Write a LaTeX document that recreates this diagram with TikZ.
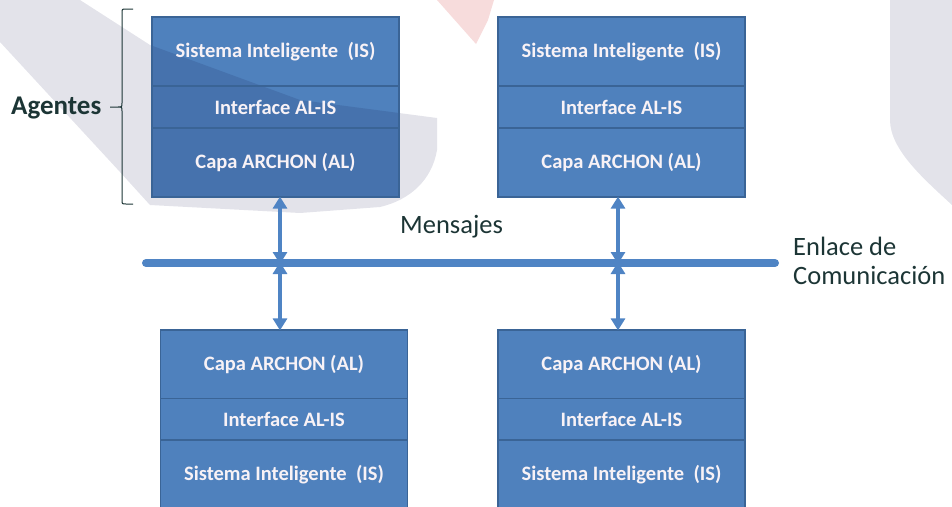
\documentclass[tikz,border=0pt]{standalone}
\usepackage{fontspec}
\setmainfont{Carlito}
\usetikzlibrary{arrows.meta}

\definecolor{layerblue}{HTML}{4F81BD}
\definecolor{layeredge}{HTML}{3A6496}
\definecolor{linkblue}{HTML}{4F84C4}
\definecolor{inkdark}{HTML}{1C3535}
\definecolor{layertext}{HTML}{F8F2F6}
\definecolor{washgray}{HTML}{E3E3EA}
\definecolor{washpink}{HTML}{F7DCDC}

% the grey sweep, as a path over named points
\newcommand{\sweeppath}{(sw1) -- (sw2) -- (sw3) -- (sw4) -- (sw5) -- (sw6)
  .. controls (sc1) and (sc2) .. (sw7) -- (sw8) -- (sw9) -- (sw10) -- (sw11) -- cycle}

\tikzset{
  layer/.style={draw=layeredge, line width=1.2pt, fill=layerblue,
    minimum width=247pt, inner sep=0pt, text=layertext,
    font=\bfseries\fontsize{20.5}{23}\selectfont},
  thick layer/.style={layer, minimum height=69pt},
  thin layer/.style={layer, minimum height=42pt},
  swept/.style={path picture={\fill[washgray, blend mode=multiply] \sweeppath;}},
  msgarrow/.style={draw=linkblue, line width=4pt,
    {Triangle[length=12pt,width=14pt]}-{Triangle[length=12pt,width=14pt]},
    shorten <=-1pt, shorten >=-1pt},
  bus/.style={draw=linkblue, line width=8pt, line cap=round},
  label text/.style={text=inkdark, inner sep=0pt, align=left,
    font=\fontsize{26.5}{29}\selectfont},
}

\begin{document}
\begin{tikzpicture}[x=1pt, y=-1pt]
\useasboundingbox (0,0) rectangle (952,506);

% faint background marks
\coordinate (sw1) at (0,0);     \coordinate (sw2) at (80,0);
\coordinate (sw3) at (150,45);  \coordinate (sw4) at (300,100);
\coordinate (sw5) at (437,118); \coordinate (sw6) at (437,150);
\coordinate (sc1) at (432,180); \coordinate (sc2) at (410,200);
\coordinate (sw7) at (380,207); \coordinate (sw8) at (300,213);
\coordinate (sw9) at (150,205); \coordinate (sw10) at (120,172);
\coordinate (sw11) at (0,42);
\fill[washgray] \sweeppath;
\fill[washpink] (437,0) -- (494,0) -- (488,20) -- (476,44) -- cycle;
\fill[washgray] (890,0) -- (952,0) -- (952,205)
  .. controls (925,180) and (890,150) .. (890,120) -- cycle;

% upper agents
\node[thick layer, swept] (tl-is) at (275.5,51.5)  {Sistema Inteligente \ (IS)};
\node[thin layer, swept]  (tl-if) at (275.5,107)   {Interface AL-IS};
\node[thick layer, swept] (tl-al) at (275.5,162.5) {Capa ARCHON (AL)};

\node[thick layer] (tr-is) at (621.5,51.5)  {Sistema Inteligente \ (IS)};
\node[thin layer]  (tr-if) at (621.5,107)   {Interface AL-IS};
\node[thick layer] (tr-al) at (621.5,162.5) {Capa ARCHON (AL)};

% lower agents
\node[thick layer] (bl-al) at (284,364.5) {Capa ARCHON (AL)};
\node[thin layer]  (bl-if) at (284,419.5) {Interface AL-IS};
\node[thick layer] (bl-is) at (284,474.5) {Sistema Inteligente \ (IS)};

\node[thick layer] (br-al) at (621.5,364.5) {Capa ARCHON (AL)};
\node[thin layer]  (br-if) at (621.5,419.5) {Interface AL-IS};
\node[thick layer] (br-is) at (621.5,474.5) {Sistema Inteligente \ (IS)};

% communication link
\coordinate (bus-w) at (146,263);
\coordinate (bus-e) at (775,263);
\coordinate (tap-l) at (280,263);
\coordinate (tap-r) at (618,263);
\draw[bus] (bus-w) -- (bus-e);

% message arrows
\draw[msgarrow] (tap-l |- tl-al.south) -- (tap-l);
\draw[msgarrow] (tap-l) -- (tap-l |- bl-al.north);
\draw[msgarrow] (tap-r |- tr-al.south) -- (tap-r);
\draw[msgarrow] (tap-r) -- (tap-r |- br-al.north);

% labels
\node[label text, anchor=west] (msg) at (400,227) {Mensajes};
\node[label text, anchor=north west] (link) at (793,237) {Enlace de\\Comunicación};
\node[label text, anchor=west, font=\bfseries\fontsize{27}{30}\selectfont] (agents) at (11,108) {Agentes};

% brace grouping the upper agent
\coordinate (br-top) at (133,9);
\coordinate (br-bot) at (133,204);
\draw[inkdark, line width=1pt]
  (br-top) -- (126,9) .. controls (122,9) .. (122,13) -- (122,103)
  .. controls (122,107) .. (118,107) -- (110,107)
  (118,107) .. controls (122,107) .. (122,111) -- (122,200)
  .. controls (122,204) .. (126,204) -- (br-bot);
\end{tikzpicture}
\end{document}
